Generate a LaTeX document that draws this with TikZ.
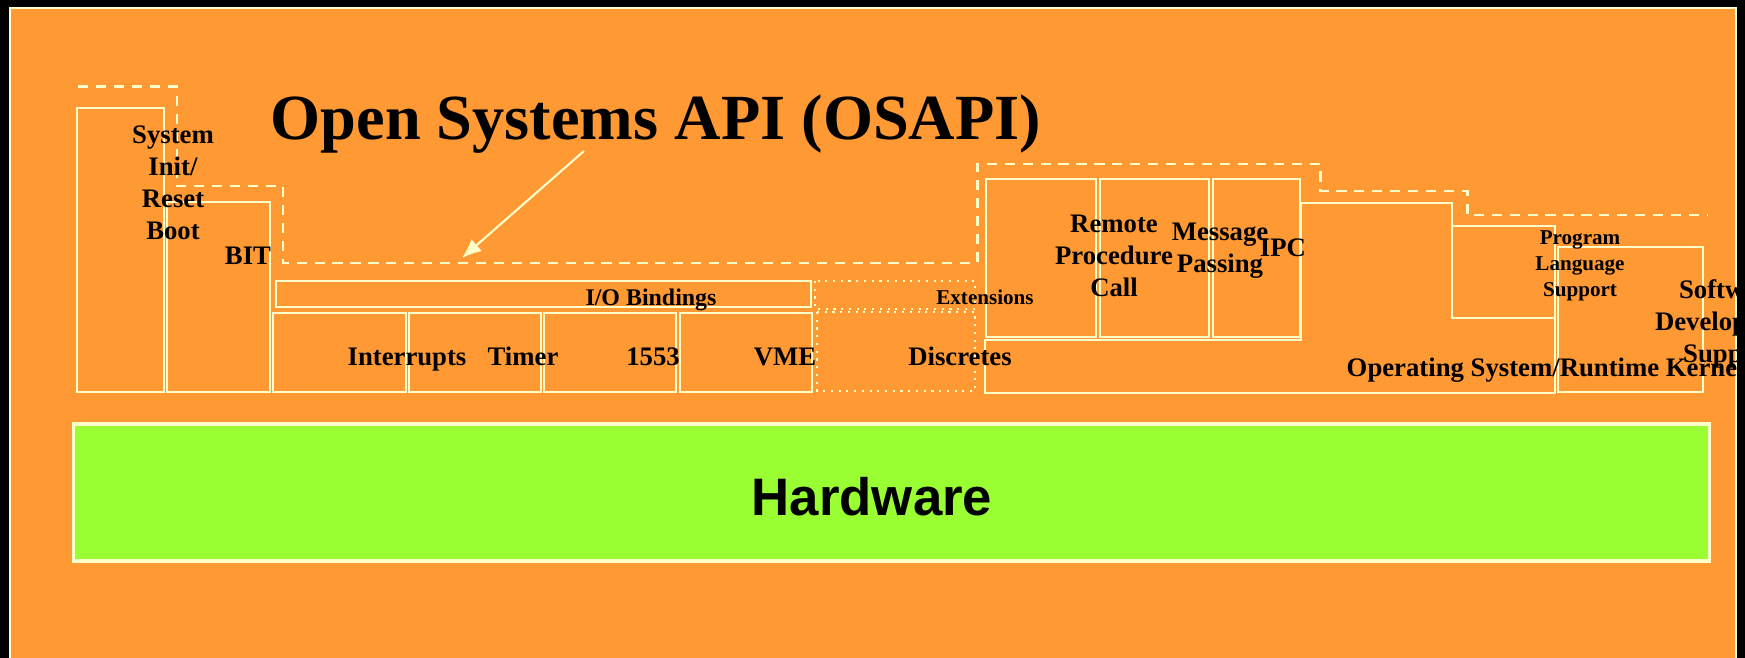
\documentclass[tikz,border=0pt]{standalone}
\usepackage{fontspec}
\setmainfont{Liberation Serif}
\newfontfamily\hwfont{Liberation Sans}
\usetikzlibrary{arrows.meta, positioning, calc}
\definecolor{slideorange}{RGB}{255,153,51}
\definecolor{cream}{RGB}{255,255,204}
\definecolor{hwgreen}{RGB}{153,255,51}

\begin{document}
\begin{tikzpicture}[x=0.01cm, y=-0.01cm, font=\bfseries,
  layerbox/.style = {draw=cream, line width=0.7pt},
  apiline/.style = {draw=cream, line width=0.85pt, dash pattern=on 2.9pt off 2.2pt},
  extline/.style = {draw=cream, line width=0.6pt, dash pattern=on 0.6pt off 1.6pt},
  lbl/.style = {font=\fontsize{7.6}{9.1}\selectfont\bfseries, align=center, anchor=base, inner sep=0pt},
  smalllbl/.style = {font=\fontsize{6}{7.4}\selectfont\bfseries, align=center, anchor=base, inner sep=0pt},
  arrow/.style = {-{Latex[length=5.5pt, width=4.5pt]}, draw=cream, line width=0.6pt}
]
\useasboundingbox (0,0) rectangle (1745,658);
\fill[black] (0,0) rectangle (1745,658);
\fill[slideorange] (9,7) rectangle (1737,658);
\draw[cream, line width=0.5pt] (10,658) -- (10,8) -- (1736,8) -- (1736,658);

\begin{scope}
\clip (10,8) rectangle (1736,658);
% title and pointer
\node[font=\fontsize{18.3}{22}\selectfont\bfseries, anchor=base west, inner sep=0pt] (title) at (270,140) {Open Systems API (OSAPI)};
\coordinate (apitail) at (584,151);
\coordinate (apitip) at (462,258);
\draw[arrow] (apitail) -- (apitip);

% API boundary
\draw[apiline] (78,87) -| (177,186) -| (283,263) -| (977,164) -| (1320,191) -| (1467,215) -- (1707,215);

% left side services
\draw[layerbox] (77,108) rectangle (164,392);
\draw[layerbox] (167,202) rectangle (270,392);
\draw[layerbox] (276,281) rectangle (811,307);
\draw[layerbox] (273,313) rectangle (406,392);
\draw[layerbox] (409,313) rectangle (541,392);
\draw[layerbox] (544,313) rectangle (676,392);
\draw[layerbox] (680,313) rectangle (812,392);
\draw[extline] (815,281) rectangle (975,309);
\draw[extline] (817,312) rectangle (975,391);

% right side services
\draw[layerbox] (986,179) rectangle (1096,337);
\draw[layerbox] (1100,179) rectangle (1209,337);
\draw[layerbox] (1213,179) rectangle (1300,337);
\draw[layerbox] (985,340) -- (1301,340) -- (1301,203) -- (1452,203) -- (1452,318)
  -- (1555,318) -- (1555,393) -- (985,393) -- cycle;
\draw[layerbox] (1452,226) rectangle (1555,318);
\draw[layerbox] (1558,247) rectangle (1703,392);

% labels (multi-line ones sit on their last line)
\node[lbl] (sysinit) at (173,240) {System\\Init/\\Reset\\Boot};
\node[lbl] (bit) at (248,265) {BIT};
\node[lbl, font=\fontsize{6.8}{8}\selectfont\bfseries] (iobind) at (651,306) {I/O Bindings};
\node[smalllbl] (ext) at (985,305) {Extensions};
\node[lbl] (intr) at (407,366) {Interrupts};
\node[lbl] (timer) at (523,366) {Timer};
\node[lbl] (mil) at (653,366) {1553};
\node[lbl] (vme) at (785,366) {VME};
\node[lbl] (discr) at (960,366) {Discretes};
\node[lbl] (rpc) at (1114,297) {Remote\\Procedure\\Call};
\node[lbl] (msg) at (1220,273) {Message\\Passing};
\node[lbl] (ipc) at (1283,257) {IPC};
\node[smalllbl] (pls) at (1580,297) {Program\\Language\\Support};
\node[lbl] (sds) at (1730,363) {Software\\Development\\Support};
\node[lbl, anchor=base west] (kernel) at (1346,377) {Operating System/Runtime Kernel};

% hardware layer
\draw[layerbox, fill=hwgreen, line width=1pt] (73.5,424) rectangle (1709.5,561);
\node[font=\fontsize{15}{18}\selectfont\hwfont\bfseries, anchor=base, inner sep=0pt] (hw) at (872,515) {Hardware};
\end{scope}
\end{tikzpicture}
\end{document}
